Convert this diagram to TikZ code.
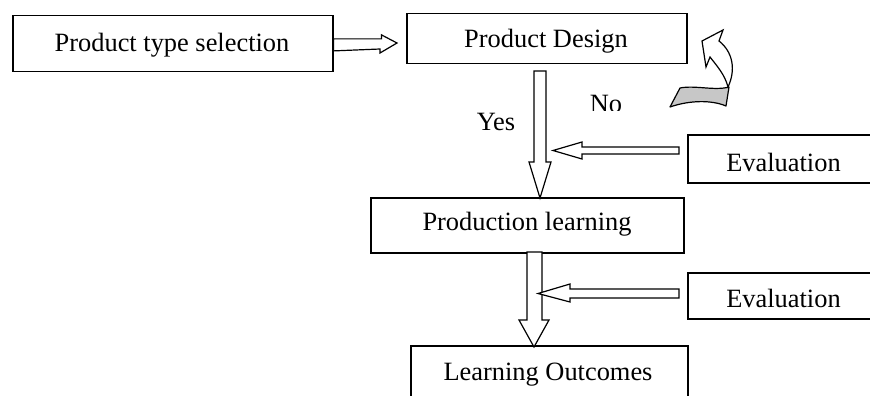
\documentclass[tikz,border=0pt]{standalone}
\usepackage{fontspec}
\setmainfont{Liberation Serif}
\usetikzlibrary{calc}
\begin{document}
\begin{tikzpicture}[x=1pt,y=-1pt,
  box/.style={draw,line width=1.5pt,rectangle,inner sep=0pt,anchor=north west},
  lbl/.style={anchor=base,inner sep=0pt,font=\fontsize{26.4}{30}\selectfont},
  blockarrow/.style={draw,fill=white,line width=1.2pt,line join=miter}]
\useasboundingbox (0,0) rectangle (870,396);
\clip (0,0) rectangle (870,396);

% boxes (width/height given in px-like points)
\node[box,minimum width=320pt,minimum height=56pt] (sel) at (12,15) {};
\node[box,minimum width=280pt,minimum height=50pt] (des) at (406,13) {};
\node[box,minimum width=313pt,minimum height=55pt] (pro) at (370,197) {};
\node[box,minimum width=200pt,minimum height=48pt] (ev1) at (687,134) {};
\node[box,minimum width=200pt,minimum height=46pt] (ev2) at (687,272) {};
\node[box,minimum width=277pt,minimum height=80pt] (out) at (410,345) {};

% box texts
\node[lbl] (tsel) at (172,52) {Product type selection};
\node[lbl] (tdes) at (546,48) {Product Design};
\node[lbl] (tpro) at (527,230) {Production learning};
\node[lbl] (tev1) at (783.5,171) {Evaluation};
\node[lbl] (tev2) at (783.5,307) {Evaluation};
\node[lbl] (tout) at (548,380) {Learning Outcomes};

% Yes / No labels
\node[lbl] (yes) at (496,130) {Yes};
\begin{scope}
  \clip (560,80) rectangle (650,110);
  \node[lbl] (no) at (606,112) {No};
\end{scope}

% selection -> design
\coordinate (a1s) at ($(sel.north east)!0.52!(sel.south east)$);
\draw[blockarrow] ($(a1s)+(0,-6)$) -- ++(48,0) -- ++(0,-4) -- (397,43)
  -- (380,53) -- ++(0,-4) -- ($(a1s)+(0,6)$) -- cycle;

% design -> production learning
\coordinate (a2s) at ($(des.south)+(-6,8)$);
\draw[blockarrow] (534,71) -- (546,71) -- (546,162) -- (551,162) -- (540,198)
  -- (529,162) -- (534,162) -- cycle;

% evaluation -> first arrow
\coordinate (e1) at ($(ev1.west)+(-8,-7.5)$);
\draw[blockarrow] (679,147) -- (582,147) -- (582,142) -- (553,150.5)
  -- (582,159) -- (582,154) -- (679,154) -- cycle;

% production learning -> outcomes
\draw[blockarrow] (527,252) -- (542,252) -- (542,320) -- (549,320) -- (534,347)
  -- (519,320) -- (527,320) -- cycle;

% evaluation -> second arrow
\draw[blockarrow] (679,289) -- (570,289) -- (570,284) -- (538,293.5)
  -- (570,302) -- (570,298) -- (679,298) -- cycle;

% curved return arrow (No loop)
\draw[line width=1.2pt,fill=black!22,line join=round]
  (670,107) -- (680,88) .. controls (695,85) and (715,91) .. (729,87)
  -- (726,106) .. controls (712,100) and (690,100) .. cycle;
\draw[line width=1.2pt,fill=white,line join=miter]
  (728,87) .. controls (736,70) and (733,52) .. (719,41) -- (723,30)
  -- (702,41) -- (706,67) -- (710,57)
  .. controls (717,66) and (725,75) .. cycle;
\end{tikzpicture}
\end{document}
